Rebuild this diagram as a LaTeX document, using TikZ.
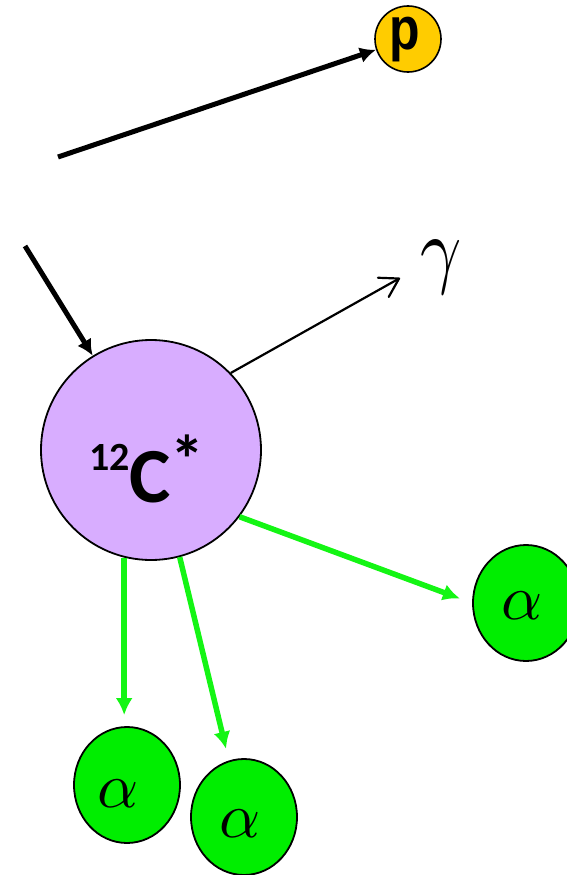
\documentclass[tikz,border=0pt]{standalone}
\usepackage{fontspec}
\newfontfamily\nucfont{Carlito}
\newfontfamily\pfont{Liberation Sans}
\usepackage{tikz}
\usetikzlibrary{arrows.meta,positioning,shapes.geometric,calc}
\definecolor{lilac}{RGB}{216,173,255}
\definecolor{alphagreen}{RGB}{0,238,0}
\definecolor{arrowgreen}{RGB}{20,245,20}
\definecolor{pyellow}{RGB}{255,204,0}

\begin{document}
\begin{tikzpicture}[x=1pt,y=-1pt,
    nucleus/.style={circle, draw, line width=1.8pt, fill=lilac, minimum size=220pt, inner sep=0pt},
    alphabox/.style={ellipse, draw, line width=1.8pt, fill=alphagreen, minimum width=106pt, minimum height=116pt, inner sep=0pt},
    greek/.style={inner sep=0pt},
    proton/.style={circle, draw, line width=1.6pt, fill=pyellow, minimum size=66pt, inner sep=0pt},
    beam/.style={-{Latex[length=16pt,width=16pt]}, line width=5pt},
    decay/.style={-{Latex[length=17pt,width=17pt]}, line width=5.5pt, draw=arrowgreen, color=arrowgreen},
    photon/.style={-{Straight Barb[length=18pt,width=22pt,line cap=round,line join=round]}, line width=2.2pt}
  ]
    \useasboundingbox (0,0) rectangle (566,875);

    \node[nucleus] (C) at (151,450) {};
    \node[anchor=base] (clabel) at (147,502) {\nucfont\bfseries\raisebox{32pt}{\fontsize{40}{40}\selectfont 12}\fontsize{78}{78}\selectfont C\raisebox{19pt}{\fontsize{68}{68}\selectfont *}};
    \node[proton] (p) at (408,39) {};
    \node[anchor=base] (plbl) at (405,50) {\pfont\bfseries\scalebox{1}[1.2]{\fontsize{50}{50}\selectfont p}};
    \node[greek] (gam) at (441,267) {\scalebox{7.2}[8.6]{$\gamma$}};
    \node[alphabox] (a1) at (127,785) {};
    \node[alphabox] (a2) at (244,817) {};
    \node[alphabox] (a3) at (526,603) {};
    \node[greek] (a1lbl) at (118,794) {\scalebox{6.4}{$\alpha$}};
    \node[greek] (a2lbl) at (240,824) {\scalebox{6.4}{$\alpha$}};
    \node[greek] (a3lbl) at (522,606) {\scalebox{6.4}{$\alpha$}};

    \coordinate (pin) at (58,157);
    \coordinate (cin) at (25,246);
    \coordinate (gend) at (400,278);

    \draw[beam] (pin) -- (p);
    \draw[beam] (cin) -- (C);
    \draw[photon] (C.44) -- (gend);
    \draw[decay, shorten >=11pt] (C.-104) -- (C.-104 |- a1.north);
    \draw[decay, shorten >=12pt] (C.-75) -- (a2.105);
    \draw[decay, shorten >=13pt] (C.-37.5) -- (a3.west);
  \end{tikzpicture}
\end{document}
